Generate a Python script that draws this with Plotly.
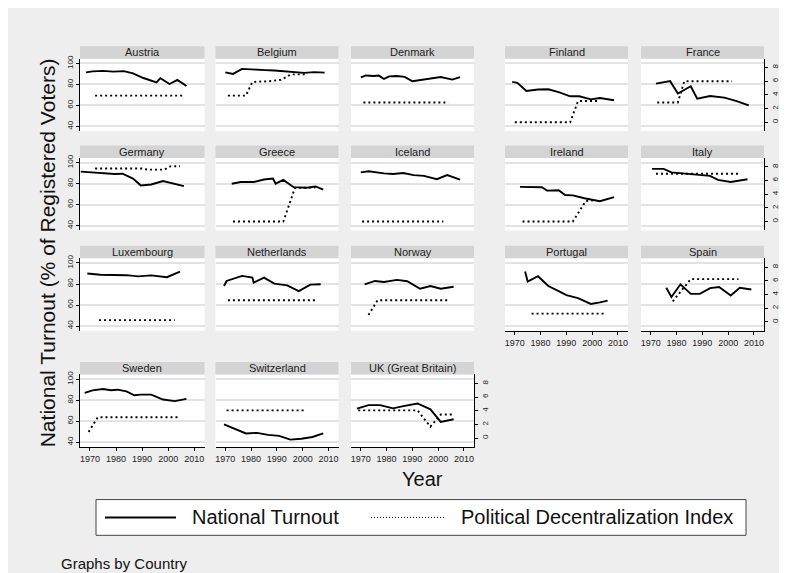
import plotly.graph_objects as go

# ---------------- data ----------------
COUNTRIES = ["Austria", "Belgium", "Denmark", "Finland", "France",
             "Germany", "Greece", "Iceland", "Ireland", "Italy",
             "Luxembourg", "Netherlands", "Norway", "Portugal", "Spain",
             "Sweden", "Switzerland", "UK (Great Britain)"]

AUSTRIA_T_YEARS = [1968.5, 1971, 1975, 1979, 1983, 1986.5, 1990.5, 1995.5, 1997, 2000.5, 2003.5, 2007]
AUSTRIA_TURNOUT = [91.5, 92.4, 92.9, 92.2, 92.6, 90.5, 86.1, 81.9, 86.0, 80.4, 84.3, 78.5]
AUSTRIA_I_YEARS = [1972, 2006]
AUSTRIA_INDEX = [3.9, 3.9]

BELGIUM_T_YEARS = [1970, 1973, 1976.5, 1978.5, 1982, 1985.5, 1989, 1993, 1997, 2000.5, 2004.5, 2008.5]
BELGIUM_TURNOUT = [91.5, 90.0, 94.8, 94.4, 94.0, 93.6, 93.2, 92.3, 91.3, 91.0, 91.7, 91.2]
BELGIUM_I_YEARS = [1971, 1978, 1980.5, 1987, 1991.5, 1995.5, 2002]
BELGIUM_INDEX = [3.9, 3.9, 5.9, 6.0, 6.2, 7.0, 7.0]

DENMARK_T_YEARS = [1970, 1972, 1975, 1977, 1979, 1981, 1984, 1987, 1990, 1994, 1998, 2001, 2005.5, 2008.5]
DENMARK_TURNOUT = [86.6, 88.5, 88.0, 88.4, 85.2, 87.6, 88.0, 87.2, 83.0, 84.3, 86.0, 87.0, 84.6, 86.9]
DENMARK_I_YEARS = [1971, 2004]
DENMARK_INDEX = [2.9, 2.9]

FINLAND_T_YEARS = [1969, 1971, 1974.5, 1979, 1983, 1987, 1991.5, 1995, 1999.5, 2003, 2008.5]
FINLAND_TURNOUT = [82.4, 81.5, 73.8, 75.1, 75.4, 72.6, 68.7, 68.7, 65.8, 67.1, 64.9]
FINLAND_I_YEARS = [1970, 1991.5, 1994.5, 2003]
FINLAND_INDEX = [0.0, 0.0, 3.1, 3.1]

FRANCE_T_YEARS = [1972, 1977.5, 1980.5, 1985.5, 1988, 1993, 1998.5, 2003, 2008]
FRANCE_TURNOUT = [80.8, 83.1, 71.3, 78.3, 66.5, 69.0, 67.4, 64.3, 60.1]
FRANCE_I_YEARS = [1972.5, 1980.5, 1983, 2001.5]
FRANCE_INDEX = [2.9, 2.9, 6.0, 6.0]

GERMANY_T_YEARS = [1966.5, 1971, 1975.5, 1979.5, 1982.5, 1986.5, 1989.5, 1993.5, 1998, 2002.5, 2006]
GERMANY_TURNOUT = [91.5, 90.8, 89.8, 89.2, 89.5, 84.9, 78.4, 79.3, 82.6, 80.0, 77.7]
GERMANY_I_YEARS = [1972, 1990, 1992, 1998.5, 2001, 2004.5]
GERMANY_INDEX = [7.75, 7.75, 7.6, 7.6, 8.1, 8.1]

GREECE_T_YEARS = [1972.5, 1976, 1981, 1985, 1988.5, 1989.5, 1992.5, 1996.5, 2001.5, 2005, 2008]
GREECE_TURNOUT = [80.0, 81.6, 81.6, 84.0, 85.0, 80.0, 83.6, 76.7, 76.1, 77.4, 74.4]
GREECE_I_YEARS = [1973, 1992.5, 1997, 2005]
GREECE_INDEX = [0.0, 0.0, 4.9, 5.0]

ICELAND_T_YEARS = [1970, 1973, 1979, 1982.5, 1986.5, 1990.5, 1994.5, 1999.5, 2003.5, 2008.5]
ICELAND_TURNOUT = [90.8, 91.8, 89.8, 89.2, 90.2, 88.2, 87.5, 84.3, 88.2, 83.9]
ICELAND_I_YEARS = [1970.5, 2002]
ICELAND_INDEX = [0.0, 0.0]

IRELAND_T_YEARS = [1972, 1980.5, 1982.5, 1987, 1989.5, 1992.5, 1997, 2003, 2008.5]
IRELAND_TURNOUT = [77.0, 76.7, 73.4, 73.8, 69.2, 68.9, 66.2, 63.3, 67.2]
IRELAND_I_YEARS = [1973, 1992.5, 1997.5, 2000.5]
IRELAND_INDEX = [0.0, 0.0, 3.0, 3.1]

ITALY_T_YEARS = [1970.5, 1975, 1978, 1983, 1988, 1993, 1996, 2001, 2007.5]
ITALY_TURNOUT = [94.1, 94.1, 90.8, 89.8, 89.2, 87.5, 83.6, 81.6, 84.3]
ITALY_I_YEARS = [1972, 2005]
ITALY_INDEX = [7.0, 7.0]

LUXEMBOURG_T_YEARS = [1969, 1974, 1979, 1984, 1988.5, 1993.5, 1999.5, 2004.5]
LUXEMBOURG_TURNOUT = [90.0, 88.8, 88.6, 88.4, 87.3, 88.2, 86.5, 91.8]
LUXEMBOURG_I_YEARS = [1973.5, 2002.5]
LUXEMBOURG_INDEX = [0.25, 0.25]

NETHERLANDS_T_YEARS = [1969.5, 1970.5, 1976.5, 1980.5, 1981, 1985, 1989, 1994, 1998.5, 2003, 2007]
NETHERLANDS_TURNOUT = [78.1, 82.9, 87.7, 86.1, 81.3, 86.1, 80.3, 78.7, 73.2, 79.4, 79.7]
NETHERLANDS_I_YEARS = [1971, 2005.5]
NETHERLANDS_INDEX = [3.17, 3.17]

NORWAY_T_YEARS = [1971.5, 1975.5, 1979, 1984, 1988, 1993, 1997, 2001, 2006]
NORWAY_TURNOUT = [79.7, 82.9, 81.9, 83.9, 82.6, 75.5, 78.1, 75.5, 77.4]
NORWAY_I_YEARS = [1973, 1976.5, 2004.5]
NORWAY_INDEX = [1.0, 3.17, 3.17]

PORTUGAL_T_YEARS = [1974, 1975, 1979, 1983, 1987, 1990, 1994.5, 1999.5, 2003, 2006]
PORTUGAL_TURNOUT = [91.9, 82.3, 87.4, 78.1, 73.2, 69.4, 66.5, 61.0, 62.5, 64.2]
PORTUGAL_I_YEARS = [1976.5, 2005.5]
PORTUGAL_INDEX = [1.2, 1.2]

SPAIN_T_YEARS = [1976, 1978, 1981.5, 1985.5, 1989, 1993, 1996.5, 2001, 2004.5, 2009]
SPAIN_TURNOUT = [76.5, 67.7, 79.7, 70.6, 70.6, 76.1, 77.1, 69.0, 76.5, 74.8]
SPAIN_I_YEARS = [1978.5, 1985.5, 2004]
SPAIN_INDEX = [3.0, 6.25, 6.25]

SWEDEN_T_YEARS = [1968, 1971, 1975, 1978, 1980.5, 1984, 1987, 1989.5, 1993.5, 1998, 2002.5, 2007]
SWEDEN_TURNOUT = [86.9, 89.4, 90.6, 89.4, 90.0, 88.4, 84.7, 85.3, 85.3, 80.6, 79.1, 81.3]
SWEDEN_I_YEARS = [1969.5, 1973, 2004.5]
SWEDEN_INDEX = [0.9, 3.04, 3.04]

SWITZERLAND_T_YEARS = [1969.5, 1973.8, 1978, 1982.3, 1986.6, 1990.9, 1995.2, 1999.5, 2003.8, 2008]
SWITZERLAND_TURNOUT = [56.9, 52.5, 48.3, 48.9, 47.0, 46.0, 42.5, 43.3, 45.0, 48.5]
SWITZERLAND_I_YEARS = [1970.5, 2001.5]
SWITZERLAND_INDEX = [4.05, 4.05]

UK_T_YEARS = [1968.5, 1973, 1977.5, 1982.5, 1986.5, 1992, 1997, 2001, 2006]
UK_TURNOUT = [71.9, 75.3, 75.3, 72.2, 74.4, 76.9, 71.3, 59.4, 61.9]
UK_I_YEARS = [1969, 1992, 1997, 2001, 2005.5]
UK_INDEX = [4.05, 4.05, 1.67, 3.44, 3.44]

T_YEARS = [AUSTRIA_T_YEARS, BELGIUM_T_YEARS, DENMARK_T_YEARS, FINLAND_T_YEARS, FRANCE_T_YEARS,
           GERMANY_T_YEARS, GREECE_T_YEARS, ICELAND_T_YEARS, IRELAND_T_YEARS, ITALY_T_YEARS,
           LUXEMBOURG_T_YEARS, NETHERLANDS_T_YEARS, NORWAY_T_YEARS, PORTUGAL_T_YEARS, SPAIN_T_YEARS,
           SWEDEN_T_YEARS, SWITZERLAND_T_YEARS, UK_T_YEARS]
TURNOUT = [AUSTRIA_TURNOUT, BELGIUM_TURNOUT, DENMARK_TURNOUT, FINLAND_TURNOUT, FRANCE_TURNOUT,
           GERMANY_TURNOUT, GREECE_TURNOUT, ICELAND_TURNOUT, IRELAND_TURNOUT, ITALY_TURNOUT,
           LUXEMBOURG_TURNOUT, NETHERLANDS_TURNOUT, NORWAY_TURNOUT, PORTUGAL_TURNOUT, SPAIN_TURNOUT,
           SWEDEN_TURNOUT, SWITZERLAND_TURNOUT, UK_TURNOUT]
I_YEARS = [AUSTRIA_I_YEARS, BELGIUM_I_YEARS, DENMARK_I_YEARS, FINLAND_I_YEARS, FRANCE_I_YEARS,
           GERMANY_I_YEARS, GREECE_I_YEARS, ICELAND_I_YEARS, IRELAND_I_YEARS, ITALY_I_YEARS,
           LUXEMBOURG_I_YEARS, NETHERLANDS_I_YEARS, NORWAY_I_YEARS, PORTUGAL_I_YEARS, SPAIN_I_YEARS,
           SWEDEN_I_YEARS, SWITZERLAND_I_YEARS, UK_I_YEARS]
INDEX = [AUSTRIA_INDEX, BELGIUM_INDEX, DENMARK_INDEX, FINLAND_INDEX, FRANCE_INDEX,
         GERMANY_INDEX, GREECE_INDEX, ICELAND_INDEX, IRELAND_INDEX, ITALY_INDEX,
         LUXEMBOURG_INDEX, NETHERLANDS_INDEX, NORWAY_INDEX, PORTUGAL_INDEX, SPAIN_INDEX,
         SWEDEN_INDEX, SWITZERLAND_INDEX, UK_INDEX]

X_TICKS = [1970, 1980, 1990, 2000, 2010]
LEFT_TICKS = [40, 60, 80, 100]
RIGHT_TICKS = [0, 2, 4, 6, 8]

# ---------------- layout geometry (pixels) ----------------
W, H = 787, 573
COL_X = [(72, 196.5), (207.5, 330.5), (343, 466), (497, 620), (633, 756)]
ROW_Y = [(47, 120), (147, 220), (248, 321), (365, 438)]
BAR_H = 12.5
X_RANGE = [1966.2, 2013.9]
L_RANGE = [35.5, 104.5]
R_RANGE = [-1.3, 9.3]
FONT = "Liberation Sans, Arial, sans-serif"
BG = "#eeeeee"


def fx(p):
    return p / W


def fy(p):
    return 1 - p / H


fig = go.Figure()
layout = dict(
    width=W, height=H, margin=dict(l=0, r=0, t=0, b=0),
    paper_bgcolor=BG, plot_bgcolor="white", showlegend=False,
    font=dict(family=FONT, color="#222"),
)
shapes = []
annotations = []

n = len(COUNTRIES)
for i in range(n):
    k = i + 1
    r, c = divmod(i, 5)
    x0, x1 = COL_X[c]
    y0, y1 = ROW_Y[r]
    xa = "x" if k == 1 else f"x{k}"
    yl_n, yr_n = 2 * k - 1, 2 * k
    yl = "y" if yl_n == 1 else f"y{yl_n}"
    yr = f"y{yr_n}"

    bottom = (r == 3) or (r == 2 and c >= 3)
    left = (c == 0)
    right = (c == 4) or (i == n - 1)

    fig.add_trace(go.Scatter(x=T_YEARS[i], y=TURNOUT[i], mode="lines", xaxis=xa, yaxis=yl,
                             line=dict(color="black", width=1.9), hoverinfo="skip"))
    fig.add_trace(go.Scatter(x=I_YEARS[i], y=INDEX[i], mode="lines", xaxis=xa, yaxis=yr,
                             line=dict(color="black", width=1.9, dash="2px,3px"), hoverinfo="skip"))

    layout["xaxis" if k == 1 else f"xaxis{k}"] = dict(
        domain=[fx(x0), fx(x1)], range=X_RANGE, anchor=yl, showgrid=False, zeroline=False,
        tickvals=X_TICKS, showticklabels=bottom, ticks="outside" if bottom else "",
        ticklen=3, tickcolor="black", showline=bottom, linecolor="black", linewidth=1,
        tickfont=dict(size=9, color="#222"), fixedrange=True,
    )
    layout["yaxis" if yl_n == 1 else f"yaxis{yl_n}"] = dict(
        domain=[fy(y1), fy(y0)], range=L_RANGE, anchor=xa, tickvals=LEFT_TICKS,
        showgrid=True, gridcolor="#e3e3e3", gridwidth=1.6, zeroline=False,
        showticklabels=left, ticks="outside" if left else "", ticklen=3, tickcolor="black",
        tickangle=-90, showline=left, linecolor="black", linewidth=1,
        tickfont=dict(size=8, color="#222"), fixedrange=True,
    )
    layout[f"yaxis{yr_n}"] = dict(
        overlaying=yl, side="right", anchor=xa, range=R_RANGE, tickvals=RIGHT_TICKS,
        showgrid=False, zeroline=False, showticklabels=right,
        ticks="outside" if right else "", ticklen=3, tickcolor="black",
        tickangle=-90, showline=right, linecolor="black", linewidth=1,
        tickfont=dict(size=8, color="#222"), fixedrange=True,
    )

    # title bar
    shapes.append(dict(type="rect", xref="paper", yref="paper",
                       x0=fx(x0), x1=fx(x1), y0=fy(y0), y1=fy(y0 - BAR_H),
                       fillcolor="#d4d4d4", line=dict(width=0)))
    annotations.append(dict(text=COUNTRIES[i], xref="paper", yref="paper",
                            x=fx((x0 + x1) / 2), y=fy(y0 - BAR_H / 2),
                            xanchor="center", yanchor="middle", showarrow=False,
                            font=dict(size=11, color="#222")))

# axis titles
annotations.append(dict(text="National Turnout (% of Registered Voters)", xref="paper", yref="paper",
                        x=fx(39), y=fy(243), textangle=-90, showarrow=False,
                        xanchor="center", yanchor="middle", font=dict(size=21, color="#111")))
annotations.append(dict(text="Year", xref="paper", yref="paper", x=fx(414), y=fy(470),
                        showarrow=False, xanchor="center", yanchor="middle",
                        font=dict(size=20, color="#111")))

# legend (drawn by hand, Stata style)
LEG_Y = 509
shapes.append(dict(type="rect", xref="paper", yref="paper", x0=fx(88), x1=fx(738),
                   y0=fy(527), y1=fy(491), fillcolor="white", line=dict(color="#444", width=1)))
shapes.append(dict(type="line", xref="paper", yref="paper", x0=fx(97), x1=fx(168),
                   y0=fy(LEG_Y), y1=fy(LEG_Y), line=dict(color="black", width=2)))
shapes.append(dict(type="line", xref="paper", yref="paper", x0=fx(363), x1=fx(437),
                   y0=fy(LEG_Y), y1=fy(LEG_Y), line=dict(color="black", width=1, dash="1px,2px")))
annotations.append(dict(text="National Turnout", xref="paper", yref="paper", x=fx(182), y=fy(LEG_Y),
                        xanchor="left", yanchor="middle", showarrow=False,
                        font=dict(size=20, color="#111")))
annotations.append(dict(text="Political Decentralization Index", xref="paper", yref="paper",
                        x=fx(451), y=fy(LEG_Y), xanchor="left", yanchor="middle", showarrow=False,
                        font=dict(size=20, color="#111")))
annotations.append(dict(text="Graphs by Country", xref="paper", yref="paper", x=fx(51), y=fy(555),
                        xanchor="left", yanchor="middle", showarrow=False,
                        font=dict(size=15, color="#111")))

layout["shapes"] = shapes
layout["annotations"] = annotations
fig.update_layout(**layout)
fig.write_html("out.html")
